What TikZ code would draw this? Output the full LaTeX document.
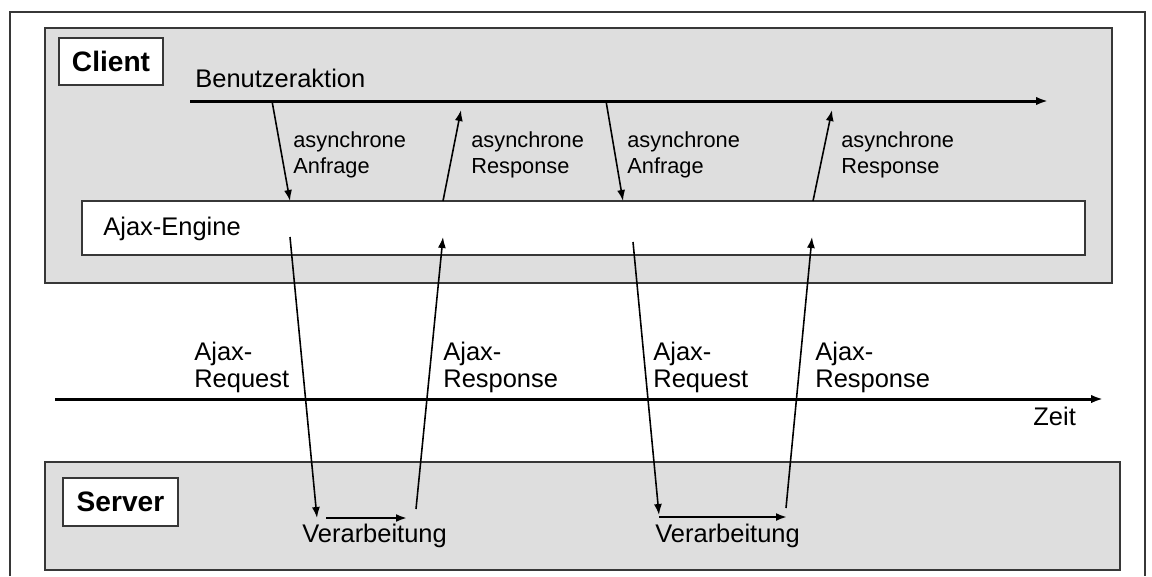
\documentclass[tikz,border=0pt]{standalone}
\usepackage{fontspec}
\setmainfont{Liberation Sans}
\usetikzlibrary{arrows.meta}
\definecolor{panel}{RGB}{222,222,222}
\definecolor{edge}{RGB}{55,55,55}

\begin{document}
\begin{tikzpicture}[x=0.02cm,y=-0.02cm,
  panelbox/.style={draw=edge,line width=1pt,fill=panel,inner sep=0pt},
  tag/.style={draw=edge,line width=1pt,fill=white,inner sep=0pt,
    font=\fontsize{16}{19}\selectfont\bfseries},
  lbl/.style={anchor=base west,inner sep=0pt,align=left,
    font=\fontsize{14.5}{15.3}\selectfont},
  small/.style={anchor=base west,inner sep=0pt,align=left,
    font=\fontsize{12.4}{14.7}\selectfont},
  axis/.style={line width=1.7pt,-{Latex[length=0.24cm,width=0.17cm]}},
  msg/.style={line width=0.9pt,-{Latex[length=0.22cm,width=0.16cm]}},
  procarrow/.style={line width=1.4pt,-{Latex[length=0.22cm,width=0.16cm]}},
]
\useasboundingbox (0,0) rectangle (1152,576);

% outer frame
\draw[edge,line width=1pt] (10,576) -- (10,12) -- (1145,12) -- (1145,576);

% client and server panels
\node[panelbox,minimum width=21.34cm,minimum height=5.1cm] (client) at (578.5,155.5) {};
\node[panelbox,minimum width=21.5cm,minimum height=2.16cm] (server) at (582.5,516) {};
\node[tag,minimum width=2.08cm,minimum height=0.94cm] (clienttag) at (111,61.5) {Client};
\node[tag,minimum width=2.3cm,minimum height=0.96cm] (servertag) at (120.5,502) {Server};

% Ajax engine bar
\node[draw=edge,line width=1pt,fill=white,inner sep=0pt,
      minimum width=20.06cm,minimum height=1.08cm] (engine) at (583.5,228) {};
\node[lbl] (enginetxt) at (103,235) {Ajax-Engine};

% user action timeline
\coordinate (ua0) at (190,101);
\coordinate (ua1) at (1048,101);
\draw[axis] (ua0) -- (ua1);
\node[lbl] (uatxt) at (195,87) {Benutzeraktion};

% time axis
\coordinate (t0) at (55,399);
\coordinate (t1) at (1103,399);
\draw[axis] (t0) -- (t1);
\node[lbl] (zeit) at (1033,425) {Zeit};

% asynchronous messages between user action and engine
\coordinate (a1s) at (272,101);  \coordinate (a1e) at (290,201);
\coordinate (a2s) at (443,201);  \coordinate (a2e) at (461,110);
\coordinate (a3s) at (606,101);  \coordinate (a3e) at (623,201);
\coordinate (a4s) at (813,201);  \coordinate (a4e) at (832,110);
\draw[msg] (a1s) -- (a1e);
\draw[msg] (a2s) -- (a2e);
\draw[msg] (a3s) -- (a3e);
\draw[msg] (a4s) -- (a4e);
% base anchor of a two-line label sits on its last line
\node[small] (l1) at (293,173) {asynchrone\\Anfrage};
\node[small] (l2) at (471,173) {asynchrone\\Response};
\node[small] (l3) at (627,173) {asynchrone\\Anfrage};
\node[small] (l4) at (841,173) {asynchrone\\Response};

% requests and responses between engine and server
\coordinate (b1s) at (290,237);  \coordinate (b1e) at (317,518);
\coordinate (b2s) at (416,509);  \coordinate (b2e) at (443,237);
\coordinate (b3s) at (633,242);  \coordinate (b3e) at (659,515);
\coordinate (b4s) at (786,508);  \coordinate (b4e) at (812,237);
\draw[msg] (b1s) -- (b1e);
\draw[msg] (b2s) -- (b2e);
\draw[msg] (b3s) -- (b3e);
\draw[msg] (b4s) -- (b4e);
\node[lbl] (r1) at (194,387) {Ajax-\\Request};
\node[lbl] (r2) at (443,387) {Ajax-\\Response};
\node[lbl] (r3) at (653,387) {Ajax-\\Request};
\node[lbl] (r4) at (815,387) {Ajax-\\Response};

% server processing
\coordinate (p1s) at (326,518);  \coordinate (p1e) at (407,518);
\coordinate (p2s) at (659,517);  \coordinate (p2e) at (787,517);
\draw[procarrow] (p1s) -- (p1e);
\draw[procarrow] (p2s) -- (p2e);
\node[lbl] (v1) at (302,542) {Verarbeitung};
\node[lbl] (v2) at (655,542) {Verarbeitung};
\end{tikzpicture}
\end{document}
